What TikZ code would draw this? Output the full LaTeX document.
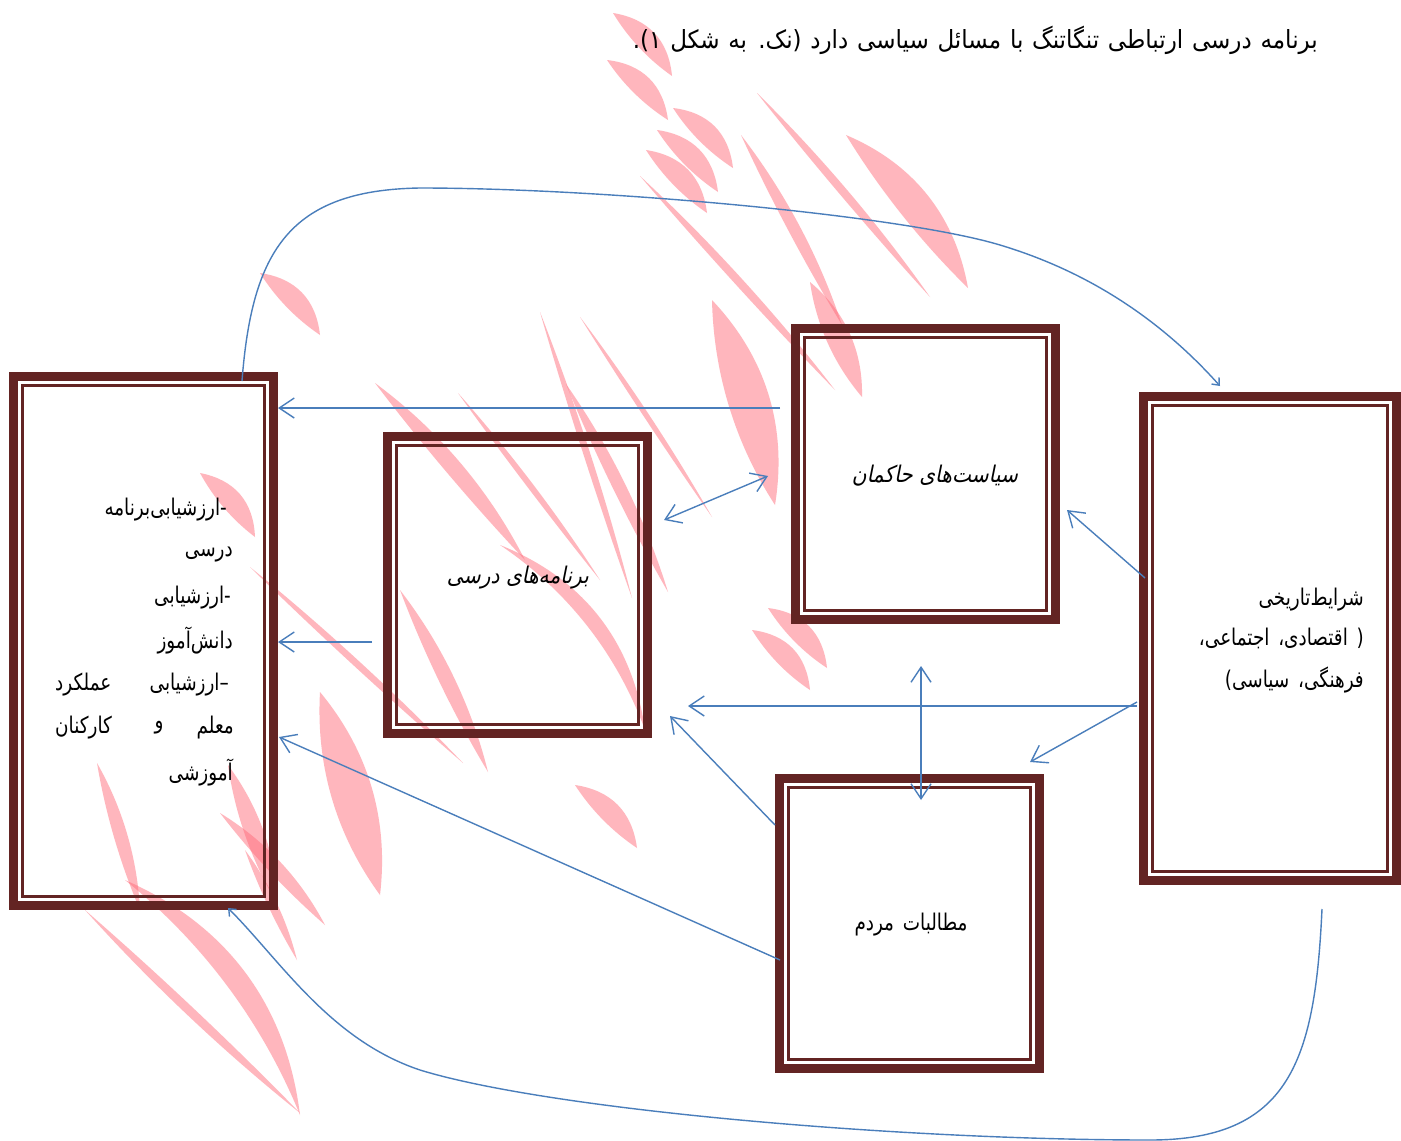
\documentclass[tikz,border=0pt]{standalone}
\usepackage{fontspec}
\usetikzlibrary{arrows.meta,calc}
\TeXXeTstate=1
\newfontfamily\ar[Script=Arabic,FakeStretch=0.8,WordSpace=1.5]{DejaVu Sans}
\newfontfamily\arsl[Script=Arabic,FakeSlant=0.2,FakeStretch=0.88]{DejaVu Sans}
\newfontfamily\art[Script=Arabic,FakeStretch=0.92,WordSpace=1.2]{DejaVu Sans}
\definecolor{framec}{RGB}{99,36,35}
\definecolor{arrowc}{RGB}{74,126,187}
\definecolor{wmc}{RGB}{255,110,125}
\tikzset{
  wm/.style={fill=wmc, fill opacity=0.5},
  dframe/.style={draw=framec, line width=9pt, inner sep=0pt},
  thinframe/.style={draw=framec, line width=3pt},
  link/.style={draw=arrowc, line width=1.4pt, -{Straight Barb[length=15pt,width=20pt]}},
  linkboth/.style={draw=arrowc, line width=1.4pt, {Straight Barb[length=15pt,width=20pt]}-{Straight Barb[length=15pt,width=20pt]}},
  curvelink/.style={draw=arrowc, line width=1.4pt, -{Straight Barb[length=6pt,width=10pt]}},
  txt/.style={font=\ar\fontsize{23}{26}\selectfont, inner sep=0pt},
  sltxt/.style={font=\arsl\fontsize{23}{26}\selectfont, inner sep=0pt},
  ttl/.style={font=\art\fontsize{25}{28}\selectfont, inner sep=0pt},
}
\newcommand\wl[6]{\fill[wm] (#1,#2) .. controls ($(#1,#2)!.33!(#3,#4)!#5pt!90:(#3,#4)$) and ($(#1,#2)!.67!(#3,#4)!#5pt!90:(#3,#4)$) .. (#3,#4) .. controls ($(#1,#2)!.67!(#3,#4)!#6pt!90:(#3,#4)$) and ($(#1,#2)!.33!(#3,#4)!#6pt!90:(#3,#4)$) .. cycle;}
\newcommand\dbox[5]{%
  \node[dframe, minimum width=#4pt, minimum height=#5pt] (#1) at (#2,#3) {};
  \draw[thinframe] ($(#1.north west)+(13.5,13.5)$) rectangle ($(#1.south east)+(-13.5,-13.5)$);}
\begin{document}
\begin{tikzpicture}[x=1pt,y=-1pt]
\fill[white] (0,0) rectangle (1401,1141);
\useasboundingbox (0,0) rectangle (1401,1141);
% watermark
\wl{613}{13}{672}{76}{22}{-6}
\wl{607}{60}{668}{120}{22}{-6}
\wl{673}{108}{733}{168}{22}{-6}
\wl{657}{130}{718}{192}{22}{-6}
\wl{646}{150}{707}{213}{22}{-6}
\wl{640}{176}{835}{390}{8}{-3}
\wl{741}{135}{842}{325}{12}{-4}
\wl{757}{93}{930}{297}{8}{-3}
\wl{846}{135}{968}{288}{35}{-8}
\wl{712}{300}{775}{505}{35}{-20}
\wl{810}{282}{862}{397}{20}{-12}
\wl{768}{608}{827}{668}{22}{-6}
\wl{752}{630}{810}{690}{22}{-6}
\wl{260}{273}{320}{335}{22}{-6}
\wl{375}{383}{525}{560}{18}{-4}
\wl{458}{393}{600}{580}{6}{-2}
\wl{540}{312}{632}{598}{6}{-3}
\wl{566}{384}{668}{592}{12}{-5}
\wl{580}{317}{712}{517}{5}{-2}
\wl{500}{545}{645}{730}{45}{25}
\wl{250}{567}{463}{763}{6}{-3}
\wl{320}{692}{380}{895}{30}{-25}
\wl{400}{590}{488}{772}{14}{-6}
\wl{575}{785}{637}{848}{22}{-6}
\wl{200}{473}{255}{537}{22}{-6}
\wl{228}{765}{278}{905}{15}{-10}
\wl{97}{763}{140}{910}{12}{-6}
\wl{85}{910}{300}{1113}{-8}{4}
\wl{125}{880}{300}{1115}{55}{25}
\wl{220}{813}{325}{925}{14}{-5}
\wl{245}{850}{297}{960}{8}{-4}
% boxes
\dbox{L}{143.5}{641}{260}{529}
\dbox{P}{517.5}{585}{260}{297}
\dbox{S}{925.5}{474}{260}{291}
\dbox{H}{1270}{638.5}{253}{484}
\dbox{M}{909.5}{923.5}{260}{290}
% texts
\node[ttl, anchor=east] (title) at (1318,40) {\beginR برنامه درسی ارتباطی تنگاتنگ با مسائل سیاسی دارد (نک. به شکل ۱).\endR};
\node[sltxt] (ptxt) at (518,578) {\beginR برنامه‌های درسی\endR};
\node[sltxt] (stxt) at (935,476) {\beginR سیاست‌های حاکمان\endR};
\node[txt] (mtxt) at (911,925) {\beginR مطالبات مردم\endR};
\node[txt, anchor=east] (h1) at (1364,600) {\beginR شرایط‌تاریخی\endR};
\node[txt, anchor=east] (h2) at (1364,638) {\beginR( اقتصادی، اجتماعی،\endR};
\node[txt, anchor=east] (h3) at (1364,680) {\beginR فرهنگی، سیاسی)\endR};
\node[txt, anchor=east] (l1) at (227,510) {\beginR -ارزشیابی‌برنامه\endR};
\node[txt, anchor=east] (l2) at (233,555) {\beginR درسی\endR};
\node[txt, anchor=east] (l3) at (231,598) {\beginR -ارزشیابی\endR};
\node[txt, anchor=east] (l4) at (233,641) {\beginR دانش‌آموز\endR};
\node[txt, anchor=east] (l5a) at (229,685) {\beginR –ارزشیابی\endR};
\node[txt, anchor=west] (l5b) at (55,685) {\beginR عملکرد\endR};
\node[txt, anchor=east] (l6a) at (234,728) {\beginR معلم\endR};
\node[txt] (l6b) at (159,728) {\beginR و\endR};
\node[txt, anchor=west] (l6c) at (55,728) {\beginR کارکنان\endR};
\node[txt, anchor=east] (l7) at (233,772) {\beginR آموزشی\endR};
% connectors
\coordinate (a1) at (780,408);
\draw[link] (a1) -- (a1 -| L.east);
\coordinate (a2p) at (664,520);
\coordinate (a2s) at (768,476);
\draw[linkboth] (a2p) -- (a2s);
\coordinate (a3) at (372,642);
\draw[link] (a3) -- (a3 -| L.east);
\coordinate (a4) at (1145,578);
\coordinate (a4e) at (1067,510);
\draw[link] (a4) -- (a4e);
\coordinate (a5) at (1137,706);
\coordinate (a5e) at (688,706);
\draw[link] (a5) -- (a5e);
\coordinate (a6) at (1137,702);
\coordinate (a6e) at (1030,762);
\draw[link] (a6) -- (a6e);
\coordinate (a7s) at (921,666);
\coordinate (a7m) at (921,800);
\draw[linkboth] (a7s) -- (a7m);
\coordinate (a8) at (775,825);
\coordinate (a8e) at (670,716);
\draw[link] (a8) -- (a8e);
\coordinate (a9) at (780,960);
\coordinate (a9e) at (279,737);
\draw[link] (a9) -- (a9e);
\coordinate (c1) at (242,381);
\coordinate (c1e) at (1220,386);
\draw[curvelink] (c1) .. controls (252,250) and (290,190) .. (420,188) .. controls (600,188) and (900,215) .. (1000,245) .. controls (1100,275) and (1170,330) .. (c1e);
\coordinate (c2) at (1322,909);
\coordinate (c2e) at (228,908);
\draw[curvelink] (c2) .. controls (1315,1060) and (1290,1140) .. (1150,1140) .. controls (900,1140) and (550,1110) .. (420,1070) .. controls (330,1040) and (280,960) .. (c2e);
\end{tikzpicture}
\end{document}
